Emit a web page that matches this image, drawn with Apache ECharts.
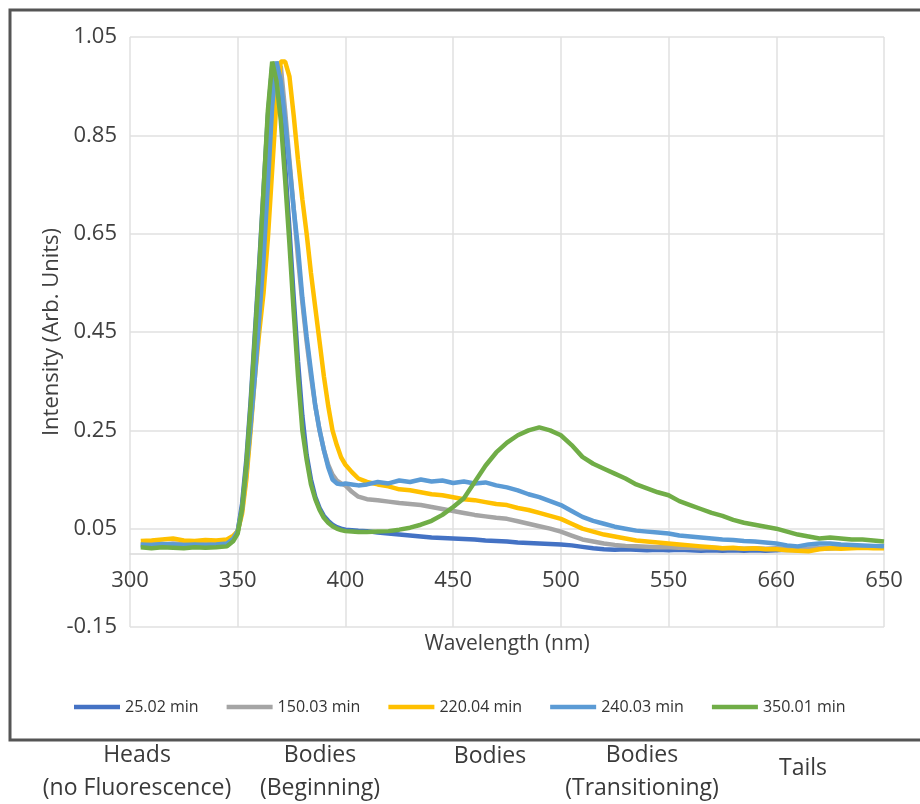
<!DOCTYPE html>
<html>
<head>
<meta charset="utf-8">
<script src="https://cdn.jsdelivr.net/npm/echarts@6/dist/echarts.min.js"></script>
<style>
html,body{margin:0;padding:0;background:#fff;}
#chart{width:920px;height:804px;}
</style>
</head>
<body>
<div id="chart"></div>
<script>
var wavelengths = [305,310,315,320,325,330,335,340,345,348,
  350,352,354,356,358,360,362,364,366,368,370,372,374,376,378,380,382,384,386,388,390,392,394,396,398,400,
  403,406,
  410,415,420,425,430,435,440,445,450,455,460,465,470,475,480,485,490,495,500,505,510,515,520,525,530,535,540,545,550,555,560,565,570,575,580,585,590,595,600,605,610,615,620,625,630,635,640,645,650];

var seriesNames = ['25.02 min','150.03 min','220.04 min','240.03 min','350.01 min'];

var s25 = [0.016,0.015,0.017,0.016,0.015,0.016,0.015,0.016,0.018,0.028,
  0.045,0.10,0.19,0.31,0.45,0.59,0.74,0.89,0.99,0.99,0.90,0.79,0.66,0.52,0.39,0.28,0.20,0.15,0.115,0.092,0.076,0.066,0.058,0.053,0.050,0.048,
  0.047,0.046,
  0.045,0.042,0.040,0.038,0.036,0.034,0.032,0.031,0.030,0.029,0.028,0.026,0.025,0.024,0.022,0.021,0.020,0.019,0.018,0.016,0.013,0.010,0.008,0.007,0.008,0.007,0.006,0.007,0.006,0.007,0.006,0.005,0.006,0.005,0.006,0.005,0.006,0.005,0.006,0.007,0.006,0.008,0.009,0.010,0.011,0.011,0.012,0.012,0.012];

var s150 = [0.018,0.019,0.018,0.020,0.019,0.018,0.020,0.019,0.020,0.030,
  0.045,0.085,0.16,0.26,0.38,0.50,0.62,0.76,0.90,0.99,0.99,0.90,0.80,0.70,0.60,0.51,0.43,0.36,0.30,0.25,0.21,0.18,0.16,0.148,0.142,0.138,
  0.125,0.115,
  0.110,0.108,0.105,0.102,0.100,0.098,0.094,0.090,0.086,0.082,0.078,0.075,0.072,0.070,0.065,0.060,0.055,0.050,0.044,0.036,0.028,0.024,0.020,0.017,0.015,0.014,0.013,0.012,0.012,0.011,0.011,0.010,0.011,0.010,0.010,0.009,0.010,0.009,0.010,0.009,0.010,0.009,0.010,0.011,0.012,0.012,0.013,0.012,0.012];

var s220 = [0.025,0.026,0.028,0.030,0.026,0.025,0.027,0.026,0.028,0.036,
  0.045,0.08,0.15,0.25,0.36,0.45,0.53,0.64,0.78,0.92,1.00,1.00,0.97,0.89,0.80,0.72,0.65,0.57,0.50,0.43,0.36,0.30,0.25,0.22,0.195,0.18,
  0.165,0.152,
  0.145,0.140,0.136,0.130,0.128,0.124,0.120,0.118,0.114,0.110,0.108,0.104,0.100,0.098,0.092,0.088,0.082,0.076,0.070,0.060,0.050,0.044,0.038,0.034,0.030,0.026,0.024,0.022,0.020,0.018,0.016,0.014,0.012,0.010,0.011,0.009,0.010,0.008,0.008,0.006,0.005,0.004,0.008,0.010,0.009,0.010,0.011,0.010,0.010];

var s240 = [0.018,0.017,0.019,0.018,0.017,0.018,0.017,0.018,0.020,0.030,
  0.045,0.09,0.17,0.26,0.36,0.48,0.60,0.75,0.91,1.00,0.96,0.88,0.79,0.70,0.62,0.52,0.44,0.37,0.30,0.25,0.21,0.175,0.15,0.142,0.140,0.142,
  0.140,0.138,
  0.140,0.145,0.142,0.148,0.145,0.150,0.146,0.148,0.143,0.146,0.142,0.144,0.138,0.134,0.128,0.120,0.114,0.106,0.098,0.086,0.074,0.066,0.060,0.054,0.050,0.046,0.044,0.042,0.040,0.036,0.034,0.032,0.030,0.028,0.027,0.025,0.024,0.022,0.020,0.016,0.014,0.018,0.020,0.020,0.018,0.017,0.016,0.015,0.014];

var s350 = [0.012,0.010,0.012,0.011,0.010,0.012,0.011,0.012,0.014,0.025,
  0.04,0.09,0.18,0.30,0.44,0.58,0.74,0.90,1.00,0.96,0.88,0.76,0.63,0.49,0.36,0.25,0.19,0.14,0.11,0.088,0.072,0.062,0.055,0.050,0.047,0.045,
  0.044,0.043,
  0.043,0.044,0.045,0.048,0.052,0.058,0.066,0.078,0.094,0.112,0.145,0.178,0.205,0.225,0.240,0.250,0.256,0.250,0.240,0.220,0.196,0.182,0.172,0.162,0.152,0.140,0.132,0.124,0.118,0.106,0.098,0.090,0.082,0.076,0.068,0.062,0.058,0.054,0.050,0.044,0.038,0.034,0.030,0.032,0.030,0.028,0.028,0.026,0.024];

var seriesValues = [s25, s150, s220, s240, s350];
var seriesColors = ['#4472C4','#A5A5A5','#FFC000','#5B9BD5','#70AD47'];

var xTickLabels = ['300','350','400','450','500','550','660','650'];
var yTickValues = [-0.15,0.05,0.25,0.45,0.65,0.85,1.05];

var stageLabels = [
  {text:'Heads\n(no Fluorescence)', x:137, y:772},
  {text:'Bodies\n(Beginning)', x:320, y:772},
  {text:'Bodies', x:490, y:756},
  {text:'Bodies\n(Transitioning)', x:642, y:772},
  {text:'Tails', x:803, y:768}
];

var FONT = 'Open Sans';
var chart = echarts.init(document.getElementById('chart'));

var series = seriesNames.map(function(name, i){
  return {
    name: name,
    type: 'line',
    symbol: 'none',
    smooth: false,
    lineStyle: {width: 4.5, color: seriesColors[i]},
    itemStyle: {color: seriesColors[i]},
    z: 2 + i,
    data: wavelengths.map(function(w, k){ return [w, seriesValues[i][k]]; })
  };
});

var graphics = [{
  type: 'rect',
  shape: {x: 10, y: 10, width: 940, height: 730},
  style: {fill: 'none', stroke: '#555', lineWidth: 3},
  silent: true
}];
stageLabels.forEach(function(s){
  graphics.push({
    type: 'text',
    x: s.x, y: s.y,
    style: {text: s.text, fill: '#3a3a3a', font: '23px "' + FONT + '"', align: 'center', verticalAlign: 'middle', lineHeight: 33},
    silent: true
  });
});

chart.setOption({
  animation: false,
  backgroundColor: '#fff',
  textStyle: {fontFamily: FONT},
  grid: {left: 130, right: 36, top: 37, bottom: 177, containLabel: false},
  legend: {
    data: seriesNames,
    left: 69, top: 694,
    itemWidth: 46, itemHeight: 18, itemGap: 28,
    icon: 'path://M0,6.5L46,6.5L46,11L0,11Z',
    textStyle: {fontSize: 16, color: '#333', fontFamily: FONT}
  },
  xAxis: {
    type: 'value',
    min: 300, max: 650, interval: 50,
    offset: -73.75,
    name: 'Wavelength (nm)',
    nameLocation: 'middle',
    nameGap: 80,
    nameMoveOverlap: false,
    nameTextStyle: {fontSize: 21, color: '#404040'},
    axisLine: {show: true, onZero: false, lineStyle: {color: '#d9d9d9', width: 1.5}},
    axisTick: {show: false},
    axisLabel: {
      fontSize: 22, color: '#404040', margin: 16,
      formatter: function(v, idx){ return xTickLabels[idx]; }
    },
    splitLine: {show: true, lineStyle: {color: '#e0e0e0', width: 1.5}}
  },
  yAxis: {
    type: 'value',
    min: -0.15, max: 1.05,
    name: 'Intensity (Arb. Units)',
    nameLocation: 'middle',
    nameGap: 67,
    nameMoveOverlap: false,
    nameTextStyle: {fontSize: 22, color: '#404040'},
    axisLine: {show: false},
    axisTick: {show: false, customValues: yTickValues},
    axisLabel: {
      fontSize: 22, color: '#404040', margin: 13,
      customValues: yTickValues,
      formatter: function(v){ return (Math.round(v*100)/100).toFixed(2); }
    },
    splitLine: {show: true, lineStyle: {color: '#e0e0e0', width: 1.5}}
  },
  series: series,
  graphic: graphics
});
</script>
</body>
</html>
